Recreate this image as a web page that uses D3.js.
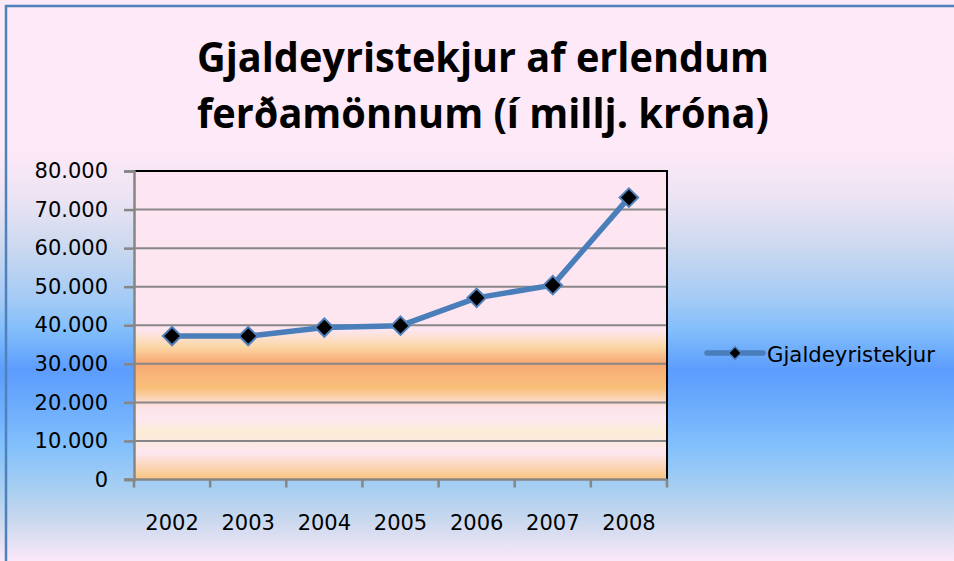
<!DOCTYPE html>
<html lang="is">
<head>
<meta charset="UTF-8">
<title>Gjaldeyristekjur</title>
<script src="https://d3js.org/d3.v7.min.js"></script>
<style>
    body { margin: 0; background: #fff; }
    svg { display: block; }
    text { font-family: "DejaVu Sans", sans-serif; fill: #000; }
</style>
</head>
<body>
<div id="chart"></div>
<script>
    const years = ["2002", "2003", "2004", "2005", "2006", "2007", "2008"];
    const tekjur = [37200, 37200, 39400, 39900, 47100, 50400, 73100];
    const yTicks = [0, 10000, 20000, 30000, 40000, 50000, 60000, 70000, 80000];
    const titleLines = ["Gjaldeyristekjur af erlendum", "ferðamönnum (í millj. króna)"];
    const seriesName = "Gjaldeyristekjur";

    const width = 954, height = 561;
    const plot = { left: 134, right: 667, top: 171, bottom: 479.5 };

    const svg = d3.select("#chart").append("svg")
        .attr("width", width).attr("height", height);

    const defs = svg.append("defs");

    // outer chart background
    const bg = defs.append("linearGradient").attr("id", "bg")
        .attr("gradientUnits", "userSpaceOnUse")
        .attr("x1", 0).attr("y1", 0).attr("x2", 0).attr("y2", height);
    [[0, "#fde9f7"], [150, "#fde9f7"], [200, "#ebe3f3"], [250, "#c9d8ef"], [300, "#a3caf6"],
     [330, "#82befb"], [370, "#5c9cfd"], [410, "#6eaefc"], [445, "#82c0fc"], [490, "#a9cff1"],
     [520, "#c9d8ee"], [561, "#fbe8f8"]].forEach(([y, c]) => {
        bg.append("stop").attr("offset", y / height).attr("stop-color", c);
    });

    // plot area background
    const ph = plot.bottom - plot.top;
    const pg = defs.append("linearGradient").attr("id", "pg")
        .attr("gradientUnits", "userSpaceOnUse")
        .attr("x1", 0).attr("y1", plot.top).attr("x2", 0).attr("y2", plot.bottom);
    [[171, "#fde6f2"], [330, "#fde6f0"], [347, "#fbd7a5"], [363, "#f9a874"], [388, "#f8c07a"],
     [407, "#fde3e6"], [420, "#fde9ef"], [432, "#fbecd5"], [453, "#fde6ef"], [479.5, "#f8c47f"]]
        .forEach(([y, c]) => {
            pg.append("stop").attr("offset", (y - plot.top) / ph).attr("stop-color", c);
        });

    svg.append("rect").attr("width", width).attr("height", height).attr("fill", "url(#bg)");
    // chart border (only top and left visible)
    svg.append("path").attr("d", `M6,${height} V6 H${width}`)
        .attr("fill", "none").attr("stroke", "#4f81bd").attr("stroke-width", 2.5);

    // title
    svg.append("g").selectAll("text").data(titleLines).join("text")
        .attr("x", 483).attr("y", (d, i) => 72 + i * 56)
        .attr("text-anchor", "middle")
        .attr("textLength", 572).attr("lengthAdjust", "spacingAndGlyphs")
        .style("font-family", "'Open Sans', sans-serif")
        .style("font-weight", "bold").style("font-size", "41px")
        .text(d => d);

    const x = d3.scaleBand().domain(years).range([plot.left, plot.right]);
    const y = d3.scaleLinear().domain([0, 80000]).range([plot.bottom, plot.top]);

    svg.append("rect")
        .attr("x", plot.left).attr("y", plot.top)
        .attr("width", plot.right - plot.left).attr("height", ph)
        .attr("fill", "url(#pg)");

    // gridlines
    svg.append("g").selectAll("line").data(yTicks.slice(1, -1)).join("line")
        .attr("x1", plot.left).attr("x2", plot.right)
        .attr("y1", d => y(d)).attr("y2", d => y(d))
        .attr("stroke", "#878787").attr("stroke-width", 2);

    // plot border top + right
    svg.append("path")
        .attr("d", `M${plot.left},${plot.top} H${plot.right} V${plot.bottom}`)
        .attr("fill", "none").attr("stroke", "#000").attr("stroke-width", 2);

    // y axis
    const fmt = v => v === 0 ? "0" : d3.format(",")(v).replace(/,/g, ".");
    const yAxis = svg.append("g").attr("transform", `translate(${plot.left},0)`)
        .call(d3.axisLeft(y).tickValues(yTicks).tickSize(10).tickPadding(16).tickFormat(fmt));
    yAxis.select(".domain").attr("stroke", "#868686").attr("stroke-width", 2.5);
    yAxis.selectAll(".tick line").attr("stroke", "#868686").attr("stroke-width", 2.5);
    yAxis.selectAll(".tick text")
        .style("font-family", "'DejaVu Sans', sans-serif").style("font-size", "21px")
        .attr("fill", "#000");

    // x axis
    const xAxis = svg.append("g").attr("transform", `translate(0,${plot.bottom})`)
        .call(d3.axisBottom(x).tickSize(0).tickPadding(0));
    xAxis.select(".domain").attr("stroke", "#868686").attr("stroke-width", 2.5)
        .attr("d", `M${plot.left - 10},0 H${plot.right}`);
    xAxis.selectAll(".tick text")
        .attr("y", 36)
        .style("font-family", "'DejaVu Sans', sans-serif").style("font-size", "21px")
        .attr("fill", "#000");
    // category boundary ticks
    const bounds = years.map(d => x(d)).concat([plot.right]);
    xAxis.append("g").selectAll("line").data(bounds).join("line")
        .attr("x1", d => d).attr("x2", d => d).attr("y1", 0).attr("y2", 8)
        .attr("stroke", "#868686").attr("stroke-width", 2.5);

    // series
    const cx = d => x(d) + x.bandwidth() / 2;
    const line = d3.line().x((d, i) => cx(years[i])).y(d => y(d));
    svg.append("path").datum(tekjur)
        .attr("d", line).attr("fill", "none")
        .attr("stroke", "#4a7ebb").attr("stroke-width", 5.5)
        .attr("stroke-linejoin", "round");

    const diamond = d3.symbol().type(d3.symbolSquare).size(170);
    svg.append("g").selectAll("path").data(tekjur).join("path")
        .attr("transform", (d, i) => `translate(${cx(years[i])},${y(d)}) rotate(45)`)
        .attr("d", diamond)
        .attr("fill", "#000").attr("stroke", "#4f81bd").attr("stroke-width", 2);

    // legend
    const lg = svg.append("g").attr("transform", "translate(707,353)");
    lg.append("line").attr("x1", 0).attr("x2", 56).attr("y1", 0).attr("y2", 0)
        .attr("stroke", "#4a7ebb").attr("stroke-width", 5.5).attr("stroke-linecap", "round");
    lg.append("path").attr("transform", "translate(28,0) rotate(45)")
        .attr("d", d3.symbol().type(d3.symbolSquare).size(80))
        .attr("fill", "#000").attr("stroke", "#4f81bd").attr("stroke-width", 1.5);
    lg.append("text").attr("x", 60).attr("y", 9)
        .style("font-size", "21px").attr("textLength", 168).attr("lengthAdjust", "spacingAndGlyphs")
        .text(seriesName);
</script>
</body>
</html>
